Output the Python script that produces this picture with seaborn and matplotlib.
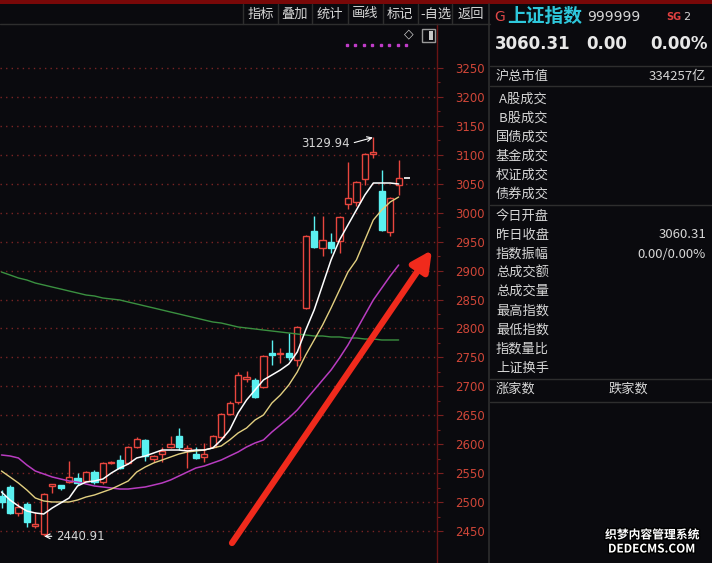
import matplotlib
matplotlib.use("Agg")
import matplotlib.pyplot as plt
import matplotlib.patheffects as pe
from matplotlib.lines import Line2D
from matplotlib.patches import Rectangle
import numpy as np
import pandas as pd
import seaborn as sns

# daily candles (left -> right)
opens = [2510, 2526, 2481, 2497, 2459, 2445, 2528, 2529, 2535, 2542,
         2537, 2552, 2535, 2568, 2573, 2568, 2595, 2607, 2575, 2583,
         2595, 2614, 2590, 2583, 2578, 2595, 2612, 2652, 2673, 2713,
         2711, 2699, 2758, 2756, 2758, 2745, 2835, 2968, 2939, 2949,
         2951, 3015, 3018, 3058, 3101, 3037, 2967, 3048]
highs = [2521, 2530, 2498, 2500, 2483, 2516, 2532, 2530, 2571, 2550,
         2554, 2555, 2570, 2571, 2581, 2597, 2613, 2609, 2582, 2595,
         2614, 2628, 2599, 2595, 2602, 2616, 2654, 2674, 2725, 2727,
         2714, 2754, 2780, 2766, 2792, 2804, 2962, 2994, 2994, 2965,
         2995, 3088, 3055, 3103, 3129.94, 3074, 3027, 3091]
lows = [2490, 2479, 2476, 2457, 2455, 2440.91, 2516, 2521, 2533, 2530,
        2535, 2532, 2532, 2566, 2557, 2566, 2594, 2571, 2570, 2569,
        2593, 2590, 2559, 2575, 2569, 2593, 2610, 2650, 2670, 2707,
        2680, 2697, 2737, 2740, 2745, 2735, 2833, 2939, 2925, 2930,
        2930, 3006, 3012, 3048, 3094, 2968, 2960, 3031]
closes = [2500, 2481, 2492, 2466, 2462, 2514, 2531, 2524, 2543, 2533,
          2552, 2535, 2568, 2570, 2559, 2595, 2609, 2580, 2580, 2588,
          2600, 2595, 2593, 2576, 2583, 2614, 2652, 2671, 2720, 2716,
          2682, 2752, 2754, 2757.6, 2751, 2802, 2960, 2941, 2953, 2939,
          2993, 3025, 3053, 3101, 3105, 2970, 3025, 3060.31]

# moving average lines at each candle
ma5 = [2517.5, 2503.6, 2493.3, 2484.6, 2481.2, 2479.4, 2489.8, 2498.5, 2507.1, 2527.8,
       2534.7, 2536.5, 2539.9, 2550.3, 2558.9, 2565.8, 2576.2, 2579.7, 2584.8, 2590.0,
       2590.0, 2590.0, 2588.3, 2590.0, 2590.0, 2593.5, 2607.3, 2624.6, 2654.0, 2676.4,
       2693.7, 2711.0, 2719.6, 2728.2, 2738.6, 2759.3, 2797.3, 2831.9, 2875.1, 2918.3,
       2952.8, 2978.8, 3004.7, 3030.6, 3051.3, 3051.3, 3051.3, 3049.6]
ma10 = [2553.7, 2543.4, 2533.0, 2520.9, 2507.1, 2501.9, 2500.2, 2500.2, 2500.2, 2503.6,
        2508.8, 2512.3, 2517.5, 2522.6, 2529.5, 2536.5, 2552.0, 2560.6, 2567.6, 2572.7,
        2577.9, 2583.1, 2586.6, 2588.3, 2590.0, 2593.5, 2596.9, 2607.3, 2619.4, 2628.0,
        2641.8, 2650.5, 2671.2, 2685.0, 2702.3, 2724.8, 2754.2, 2780.1, 2806.0, 2835.4,
        2866.5, 2897.5, 2918.3, 2952.8, 2987.4, 3004.7, 3018.5, 3027.1]
ma20 = [2581.4, 2579.7, 2576.2, 2564.1, 2553.7, 2548.6, 2543.4, 2539.9, 2536.5, 2534.7,
        2531.3, 2527.8, 2526.1, 2524.4, 2522.6, 2522.6, 2524.4, 2526.1, 2529.5, 2533.0,
        2538.2, 2545.1, 2552.0, 2558.9, 2562.4, 2567.6, 2572.7, 2579.7, 2586.6, 2595.2,
        2602.1, 2607.3, 2621.1, 2633.2, 2645.3, 2659.1, 2676.4, 2693.7, 2711.0, 2728.2,
        2749.0, 2771.4, 2797.3, 2823.3, 2849.2, 2869.9, 2890.6, 2909.6]
ma_long = [2897.5, 2892.4, 2887.2, 2883.7, 2878.5, 2875.1, 2871.6, 2868.2, 2864.7, 2861.3,
           2857.8, 2856.1, 2852.6, 2850.9, 2849.2, 2845.7, 2842.3, 2838.8, 2835.4, 2831.9,
           2828.4, 2825.0, 2821.5, 2818.1, 2814.6, 2811.2, 2809.4, 2806.0, 2802.5, 2800.8,
           2799.1, 2797.3, 2795.6, 2793.9, 2792.2, 2790.4, 2788.7, 2787.0, 2787.0, 2785.3,
           2785.3, 2783.5, 2783.5, 2781.8, 2781.8, 2780.1, 2780.1, 2780.1]

price_ticks = list(range(2450, 3251, 50))
toolbar_labels = ["指标", "叠加", "统计", "画线", "标记", "-自选", "返回"]
index_name = "上证指数"
index_code = "999999"
last_price = "3060.31"
change = "0.00"
change_pct = "0.00%"
panel_rows = ["沪总市值", " A股成交", " B股成交", "国债成交", "基金成交", "权证成交", "债券成交",
              "今日开盘", "昨日收盘", "指数振幅", "总成交额", "总成交量",
              "最高指数", "最低指数", "指数量比", "上证换手"]
panel_values = {"沪总市值": "334257亿", "昨日收盘": "3060.31", "指数振幅": "0.00/0.00%"}

BG = "#0a0a0e"
UP = "#e8463e"
DOWN = "#5af0f0"
TXT = "#d6d6d6"
AXRED = "#d04638"
LINE = "#2e2e2e"

sns.set_theme(style="dark", rc={"axes.facecolor": BG, "figure.facecolor": BG})
plt.rcParams["font.family"] = ["Noto Sans CJK SC", "DejaVu Sans"]

W, H = 712, 563
fig = plt.figure(figsize=(W / 100, H / 100), dpi=100, facecolor=BG)


def fx(px):
    return px / W


def fy(py):
    return 1 - py / H


ax = fig.add_axes([0, 0, fx(437), (H - 24) / H])
ax.set_facecolor(BG)

df = pd.DataFrame({"i": np.arange(len(closes)), "open": opens, "high": highs,
                   "low": lows, "close": closes, "ma5": ma5, "ma10": ma10,
                   "ma20": ma20, "ma_long": ma_long})
up = df["close"] >= df["open"]
colors = np.where(up, UP, DOWN)

# wicks, then bodies (hollow red bodies hide the wick inside)
ax.vlines(df["i"], df["low"], df["high"], colors=colors, lw=1.0, zorder=2)
body = np.maximum((df["close"] - df["open"]).abs(), 1.6)
ax.bar(df["i"], body, bottom=np.minimum(df["open"], df["close"]), width=0.74,
       color=np.where(up, BG, DOWN), edgecolor=colors, linewidth=1.0, zorder=3)

sns.lineplot(data=df, x="i", y="ma_long", ax=ax, color="#3a9040", lw=1.0, zorder=4)
sns.lineplot(data=df, x="i", y="ma20", ax=ax, color="#b83cc0", lw=1.1, zorder=4)
sns.lineplot(data=df, x="i", y="ma10", ax=ax, color="#e2cf80", lw=1.0, zorder=4)
sns.lineplot(data=df, x="i", y="ma5", ax=ax, color="#ffffff", lw=1.1, zorder=5)

n = len(closes)
ax.hlines(closes[-1], n - 1 + 0.6, n - 1 + 1.3, color="white", lw=1.2, zorder=5)

# high / low marks
hi = int(np.argmax(highs))
lo = int(np.argmin(lows))
ax.annotate(f"{highs[hi]:.2f}", xy=(hi - 0.05, highs[hi]), xytext=(hi - 2.8, highs[hi] - 11),
            ha="right", va="center", color=TXT, fontsize=8.5, family="DejaVu Sans",
            arrowprops=dict(arrowstyle="->", color="white", lw=0.8, shrinkA=1, shrinkB=0,
                            relpos=(1, 0.5)), zorder=6)
ax.annotate(f"{lows[lo]:.2f}", xy=(lo + 0.05, lows[lo]), xytext=(lo + 1.5, lows[lo]),
            ha="left", va="center", color=TXT, fontsize=8.5, family="DejaVu Sans",
            arrowprops=dict(arrowstyle="->", color="white", lw=0.8, shrinkA=1, shrinkB=0,
                            relpos=(0, 0.5)), zorder=6)

# big red trend arrow
ax.annotate("", xy=(432 / 437, (H - 250) / (H - 24)), xytext=(232 / 437, (H - 543) / (H - 24)),
            xycoords="axes fraction", textcoords="axes fraction",
            arrowprops=dict(arrowstyle="-|>,head_length=1.0,head_width=0.5", color="#f02a1c",
                            lw=4.5, shrinkA=0, shrinkB=0), zorder=7)

ax.set_xlim(-1.5 / 8.45, 435.5 / 8.45)
ax.set_ylim(3250 - (H - 68) * 50 / 28.94, 3250 + (68 - 24) * 50 / 28.94)
ax.set_xlabel("")
ax.set_ylabel("")
ax.set_xticks([])
ax.yaxis.tick_right()
ax.set_yticks(price_ticks)
ax.set_yticks([t + 25 for t in price_ticks[:-1]], minor=True)
ax.set_yticklabels([str(t) for t in price_ticks], family="DejaVu Sans")
ax.tick_params(axis="y", which="major", length=4, width=0.8, color="#7a2020",
               labelcolor=AXRED, labelsize=8.5, pad=9, right=True, left=False)
ax.tick_params(axis="y", which="minor", length=2.5, width=0.8, color="#7a2020", right=True, left=False)
ax.grid(False)
for t in price_ticks:
    ax.axhline(t, color="#7a2424", lw=1.0, ls=(0, (1, 3)), zorder=1)
for s in ["top", "left", "bottom"]:
    ax.spines[s].set_visible(False)
ax.spines["right"].set_color("#6a1414")
ax.spines["right"].set_linewidth(1.0)

# indicator dots and icons at the top of the chart
ax.plot(np.linspace(347 / 437, 406 / 437, 8), [fy(45) * H / (H - 24)] * 8, ls="none", marker="s",
        ms=2.0, color="#c03cc8", transform=ax.transAxes, clip_on=False)
fig.text(fx(409), fy(34), "◇", color="#cfcfcf", fontsize=9, ha="center", va="center",
         family="DejaVu Sans")
fig.add_artist(Rectangle((fx(422), fy(42)), 13 / W, 13 / H, transform=fig.transFigure,
                         fill=False, ec="#9a9a9a", lw=1))
fig.add_artist(Rectangle((fx(429), fy(40)), 4 / W, 9 / H, transform=fig.transFigure,
                         color="#c8c8c8", lw=0))

# top bar and toolbar
fig.add_artist(Rectangle((0, fy(4)), 1, 4 / H, transform=fig.transFigure, color="#780808", lw=0))
fig.add_artist(Line2D([0, fx(490)], [fy(24), fy(24)], color=LINE, lw=1))
seps = [243, 278, 312, 348, 383, 418, 452]
centers = [261, 295, 330, 365, 400, 436, 471]
for s in seps:
    fig.add_artist(Line2D([fx(s), fx(s)], [fy(4), fy(24)], color=LINE, lw=1))
for c, lab in zip(centers, toolbar_labels):
    fig.text(fx(c), fy(14), lab, color=TXT, fontsize=9.5, ha="center", va="center")

# right panel
fig.add_artist(Line2D([fx(489), fx(489)], [0, fy(4)], color=LINE, lw=1.2))
fig.text(fx(494), fy(17), "G", color="#e04848", fontsize=10, ha="left", va="center",
         family="DejaVu Sans")
fig.text(fx(507), fy(16), index_name, color="#2ec8dc", fontsize=13.5, fontweight="bold",
         ha="left", va="center")
fig.text(fx(587), fy(17), index_code, color=TXT, fontsize=10, ha="left", va="center",
         family="DejaVu Sans")
fig.text(fx(666), fy(17), "SG", color="#e04040", fontsize=7, fontweight="bold", ha="left",
         va="center", family="DejaVu Sans")
fig.text(fx(683), fy(17), "2", color=TXT, fontsize=8, ha="left", va="center", family="DejaVu Sans")
fig.text(fx(495), fy(44), last_price, color="#e8e8e8", fontsize=12, fontweight="bold",
         ha="left", va="center", family="DejaVu Sans")
fig.text(fx(586), fy(44), change, color="#e8e8e8", fontsize=12, fontweight="bold",
         ha="left", va="center", family="DejaVu Sans")
fig.text(fx(708), fy(44), change_pct, color="#e8e8e8", fontsize=12, fontweight="bold",
         ha="right", va="center", family="DejaVu Sans")

row_y = [77, 99, 118, 137, 156, 175, 194, 216, 235, 254, 273, 291, 311, 330, 349, 368]
for y, lab in zip(row_y, panel_rows):
    fig.text(fx(496), fy(y), lab, color=TXT, fontsize=9.5, ha="left", va="center")
    if lab in panel_values:
        fig.text(fx(706), fy(y), panel_values[lab], color=TXT, fontsize=9.5, ha="right", va="center")
fig.text(fx(496), fy(389), "涨家数", color=TXT, fontsize=9.5, ha="left", va="center")
fig.text(fx(609), fy(389), "跌家数", color=TXT, fontsize=9.5, ha="left", va="center")
for y in [66, 86, 205, 379, 402]:
    fig.add_artist(Line2D([fx(490), 1], [fy(y), fy(y)], color=LINE, lw=1))

# site watermark
for y, s in [(535, "织梦内容管理系统"), (549, "DEDECMS.COM")]:
    fig.text(fx(652), fy(y), s, color="white", fontsize=8.5, fontweight="bold", ha="center",
             va="center", path_effects=[pe.withStroke(linewidth=2, foreground="black")])

fig.savefig("out.png", dpi=100, facecolor=BG)
